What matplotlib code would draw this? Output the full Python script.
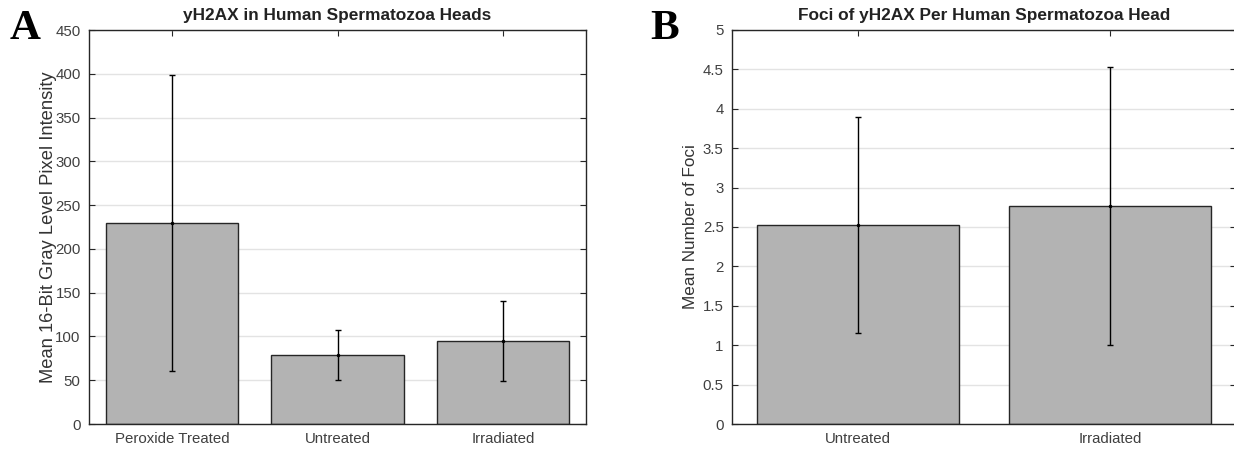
import matplotlib
matplotlib.use("Agg")
import matplotlib.pyplot as plt
import numpy as np

# Panel A data
cats_a = ["Peroxide Treated", "Untreated", "Irradiated"]
means_a = [230, 79, 95]
errs_a = [169, 28.5, 46]
yticks_a = [0, 50, 100, 150, 200, 250, 300, 350, 400, 450]

# Panel B data
cats_b = ["Untreated", "Irradiated"]
means_b = [2.53, 2.77]
errs_b = [1.37, 1.765]
yticks_b = [0, 0.5, 1, 1.5, 2, 2.5, 3, 3.5, 4, 4.5, 5]
ytick_labels_b = ["0", "0.5", "1", "1.5", "2", "2.5", "3", "3.5", "4", "4.5", "5"]

plt.rcParams['font.family'] = ['Liberation Sans', 'DejaVu Sans']

fig = plt.figure(figsize=(12.34, 4.51), dpi=100)
W, H = 1234, 451
ax_a = fig.add_axes([89 / W, (451 - 424) / H, (586 - 89) / W, (424 - 30) / H])
ax_b = fig.add_axes([732 / W, (451 - 424) / H, (1236 - 732) / W, (424 - 30) / H])

spine_col = "#262626"
tick_col = "#404040"


def style(ax, cats, means, errs, yticks, ylim, title, ylabel, ylsize, ylpad, ylabels=None):
    x = np.arange(1, len(cats) + 1)
    ax.bar(x, means, width=0.8, color="#b3b3b3", edgecolor=spine_col, linewidth=1.0, zorder=2)
    ax.errorbar(x, means, yerr=errs, fmt=".", color="black", markersize=3,
                elinewidth=1.0, capsize=2.5, capthick=1.0, zorder=3)
    ax.set_xlim(0.5, len(cats) + 0.5)
    ax.set_ylim(*ylim)
    ax.set_xticks(x)
    ax.set_xticklabels(cats)
    ax.set_yticks(yticks)
    if ylabels is not None:
        ax.set_yticklabels(ylabels)
    ax.yaxis.grid(True, color="#e3e3e3", linewidth=1.0, zorder=0)
    ax.set_axisbelow(True)
    ax.tick_params(direction="in", top=True, right=True, length=4, width=0.8,
                   colors=spine_col, labelcolor=tick_col, labelsize=10.8)
    ax.tick_params(axis="x", pad=6)
    ax.tick_params(axis="y", pad=6)
    for s in ax.spines.values():
        s.set_color(spine_col)
        s.set_linewidth(1.0)
    ax.set_title(title, fontsize=12.4, fontweight="bold", color="#222222", pad=7)
    ax.set_ylabel(ylabel, fontsize=ylsize, color="#333333", labelpad=ylpad)


style(ax_a, cats_a, means_a, errs_a, yticks_a, (0, 450),
      "yH2AX in Human Spermatozoa Heads", "Mean 16-Bit Gray Level Pixel Intensity", 13.2, -1.5)
style(ax_b, cats_b, means_b, errs_b, yticks_b, (0, 5),
      "Foci of yH2AX Per Human Spermatozoa Head", "Mean Number of Foci", 12.3, 3,
      ytick_labels_b)

fig.text(25 / W, 1 - 29 / H, "A", fontsize=31, fontweight="bold", family="Liberation Serif",
         ha="center", va="center")
fig.text(665 / W, 1 - 29 / H, "B", fontsize=31, fontweight="bold", family="Liberation Serif",
         ha="center", va="center")

fig.savefig("out.png", dpi=100)
